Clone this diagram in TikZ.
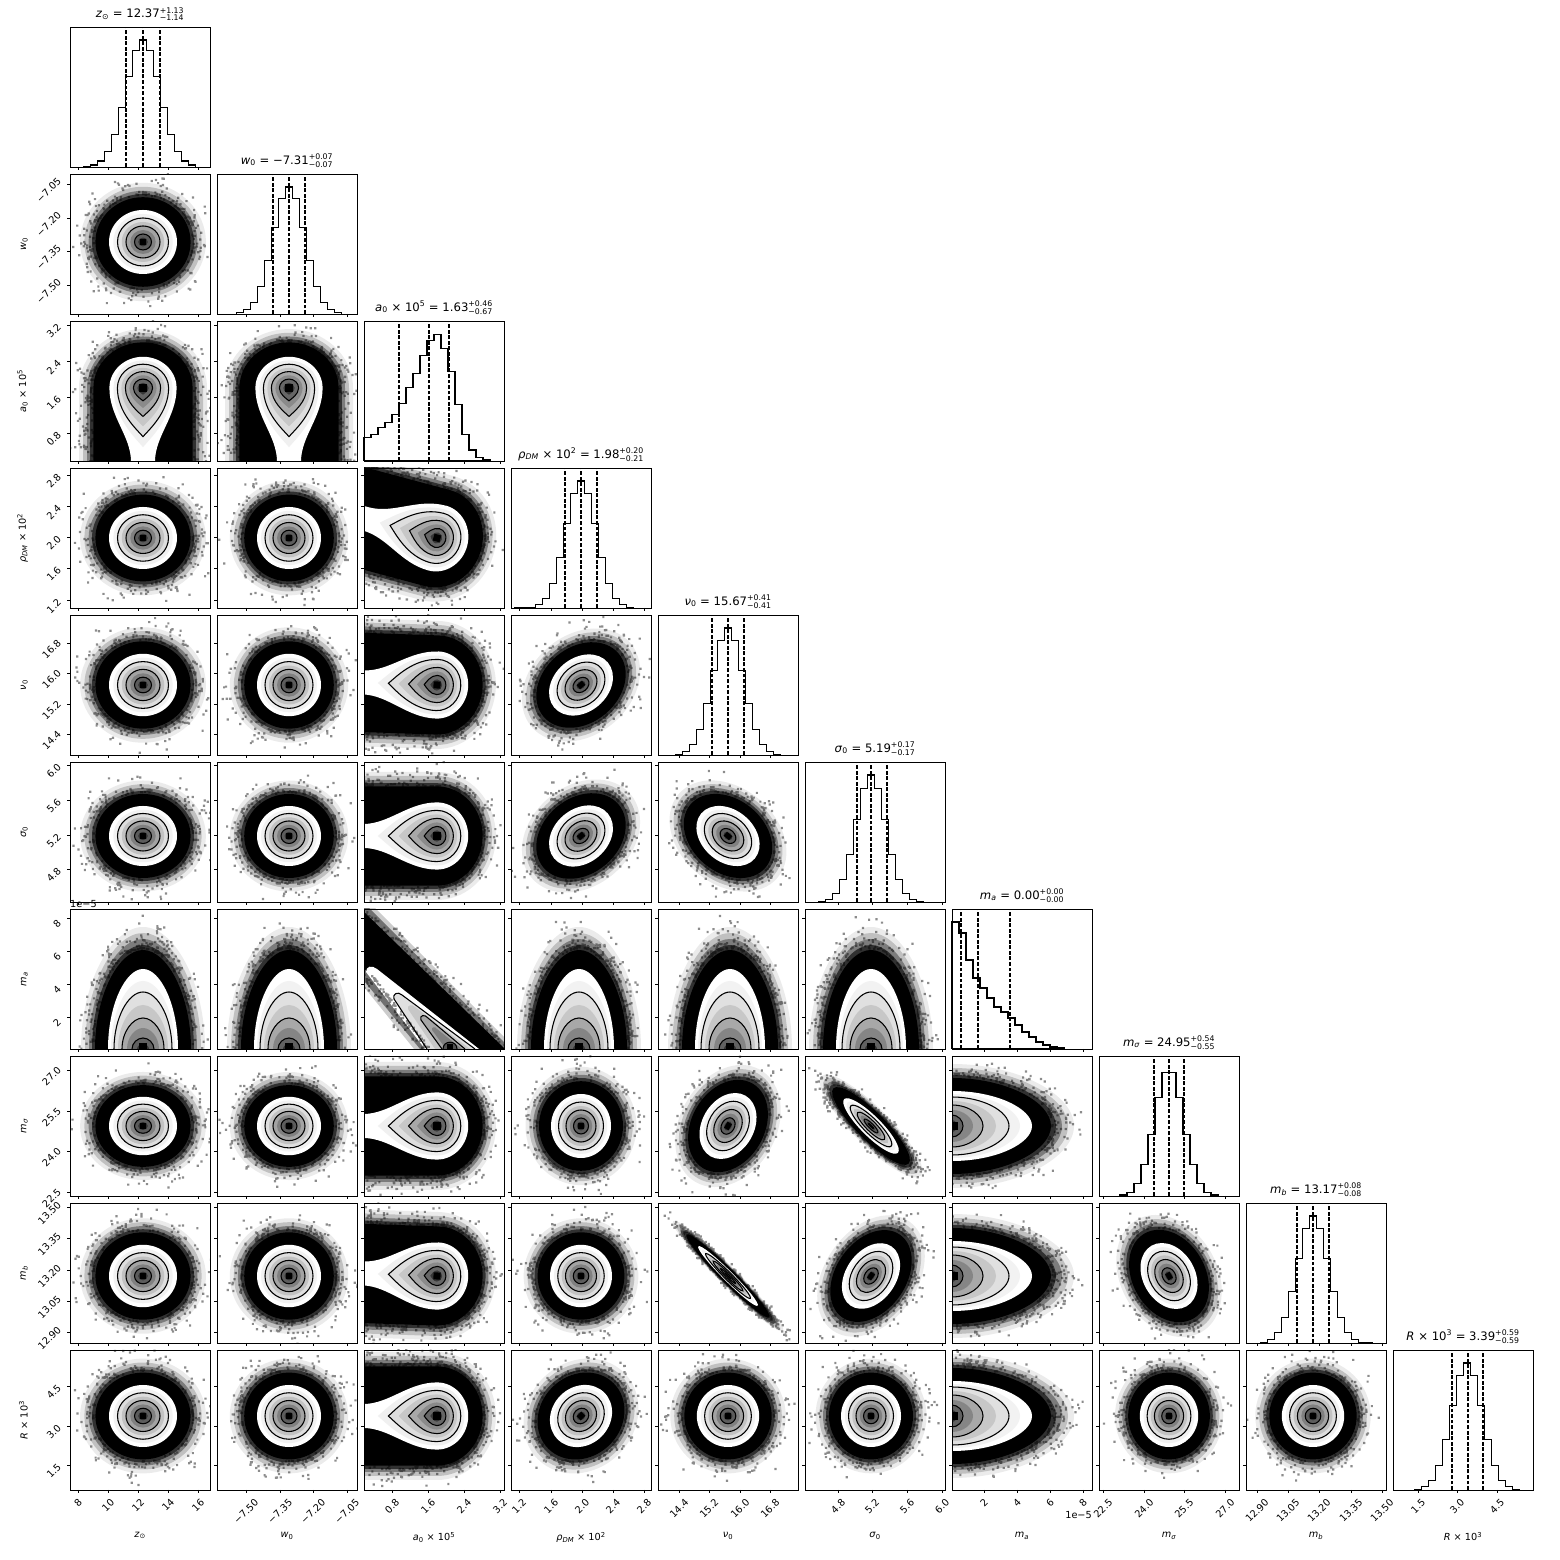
\documentclass[tikz,border=0pt]{standalone}
\usepackage{amsmath}
\usepackage{fontspec}
\setmainfont{DejaVu Sans}

\newcommand\qerr[2]{\ensuremath{^{\text{#1}}_{\text{#2}}}}
% mode of each parameter, px from the left / bottom of its panel
\def\modes{{73,72,73,70,70,66,0,70,67,74}}

\tikzset{
  panel/.style={draw=black, line width=0.8pt},
  histline/.style={line width=1.1pt},
  quantile/.style={line width=1.2pt, dash pattern=on 4pt off 1.7pt},
  contour/.style={line width=1.1pt},
  tickmark/.style={line width=0.8pt},
  scat/.style={fill=black, fill opacity=0.45},
  ticklab/.style={inner sep=0pt, font=\fontsize{10}{12}\selectfont},
  axlab/.style={inner sep=0pt, font=\fontsize{10}{12}\selectfont},
  ptitle/.style={inner sep=0pt, font=\fontsize{12}{14}\selectfont},
}

% one sample point, (u,v) given in a frame turned by #3
\newcommand\dotat[5]{({#1-1+(#4)*cos(#3)-(#5)*sin(#3)},{#2-1+(#4)*sin(#3)+(#5)*cos(#3)}) rectangle ++(2.2,2.2)}

\newcommand\tearshape[2]{(-#1,0) arc[start angle=180,end angle=0,x radius=#1,y radius=0.93*#1]
  .. controls (#1,-0.5*#2) and (0.25*#1,-0.85*#2) .. (0,-#2)
  .. controls (-0.25*#1,-0.85*#2) and (-#1,-0.5*#2) .. cycle}
\newcommand\tearhalo[1]{(-#1,0) arc[start angle=180,end angle=0,x radius=#1,y radius=0.92*#1] -- (#1,-9) -- (-#1,-9) -- cycle}
\newcommand\archshape[2]{(-#1,-4) -- (-#1,0) .. controls (-#1,0.55*#2) and (-0.5*#1,#2) .. (0,#2)
  .. controls (0.5*#1,#2) and (#1,0.55*#2) .. (#1,0) -- (#1,-4)}

\newcommand\gausspanel[5]{%
  \pgfmathsetmacro\px{70+147*#1}\pgfmathsetmacro\py{1393-147*#2}%
  \pgfmathsetmacro\mx{\modes[#1]}\pgfmathsetmacro\my{\modes[#2]}%
  \pgfmathsetmacro\cx{\px+\mx}\pgfmathsetmacro\cy{\py+\my}%
  \begin{scope}
    \clip (\px,\py) rectangle ++(140,140);
    \begin{scope}[shift={(\cx,\cy)}, rotate=#5, xscale=#3, yscale=#4]
      \foreach \s/\o in {3.7/0.08,3.45/0.18,3.2/0.35,3.0/0.6}
        \fill[black, opacity=\o] (0,0) circle (\s);
      \fill[black] (0,0) circle (2.8);
      \fill[white] (0,0) circle (2.0);
      \foreach \s/\g in {1.75/5,1.5/13,1.25/24,1.0/36,0.75/50,0.5/64,0.28/80}
        \fill[black!\g] (0,0) circle (\s);
      \fill[black] (-0.2,-0.2) rectangle (0.2,0.2);
      \foreach \s in {1.5,1.0,0.5}
        \draw[contour] (0,0) circle (\s);
    \end{scope}
    \fill[scat] \foreach \ii [evaluate=\ii as \dang using 360*rnd, evaluate=\ii as \drad using 2.9+1.7*rnd*rnd] in {1,...,260}
      {\dotat{\cx}{\cy}{#5}{#3*\drad*cos(\dang)}{#4*\drad*sin(\dang)}};
  \end{scope}}

\newcommand\tearpanel[3]{%
  \pgfmathsetmacro\px{70+147*#1}\pgfmathsetmacro\py{1393-147*#2}%
  \pgfmathsetmacro\mx{\modes[#1]}\pgfmathsetmacro\my{\modes[#2]}%
  \pgfmathsetmacro\cx{\px+\mx}\pgfmathsetmacro\cy{\py+\my}%
  \begin{scope}
    \clip (\px,\py) rectangle ++(140,140);
    \begin{scope}[shift={(\cx,\cy)}, rotate=#3, scale=16]
      \foreach \s/\o in {4.0/0.08,3.75/0.18,3.5/0.35,3.3/0.6}
        \fill[black, opacity=\o] \tearhalo{\s};
      \fill[black] \tearhalo{3.1};
      \fill[white] (-2.1,0) arc[start angle=180,end angle=0,x radius=2.1,y radius=1.95]
        .. controls (2.1,-1.8) and (0.75,-3) .. (0.75,-4.6) -- (0.75,-9) -- (-0.75,-9) -- (-0.75,-4.6)
        .. controls (-0.75,-3) and (-2.1,-1.8) .. cycle;
      \foreach \s/\tip/\g in {1.85/3.7/6,1.6/3.04/13,1.35/2.4/22,1.1/1.78/34,0.85/1.25/46,0.6/0.8/60,0.35/0.42/78}
        \fill[black!\g] \tearshape{\s}{\tip};
      \fill[black] (-0.22,-0.22) rectangle (0.22,0.22);
      \foreach \s/\tip in {1.6/3.04,1.1/1.78,0.6/0.8}
        \draw[contour] \tearshape{\s}{\tip};
    \end{scope}
    \fill[scat] \foreach \ii [evaluate=\ii as \dang using 180*rnd, evaluate=\ii as \drad using 16*(3.1+1.6*rnd*rnd)] in {1,...,160}
      {\dotat{\cx}{\cy}{#3}{\drad*cos(\dang)}{0.92*\drad*sin(\dang)}};
    \fill[scat] \foreach \ii [evaluate=\ii as \du using (2*int(2*rnd)-1)*16*(3.1+1.6*rnd*rnd), evaluate=\ii as \dv using -85*rnd] in {1,...,150}
      {\dotat{\cx}{\cy}{#3}{\du}{\dv}};
  \end{scope}}

\newcommand\archpanel[5]{%
  \pgfmathsetmacro\px{70+147*#1}\pgfmathsetmacro\py{1393-147*#2}%
  \pgfmathsetmacro\cx{\px+#3}\pgfmathsetmacro\cy{\py+#4}%
  \begin{scope}
    \clip (\px,\py) rectangle ++(140,140);
    \begin{scope}[shift={(\cx,\cy)}, rotate=#5]
      \foreach \w/\hh/\o in {62/122/0.08,58/116/0.18,54/110/0.35,51/104/0.6}
        \fill[black, opacity=\o] \archshape{\w}{\hh};
      \fill[black] \archshape{48}{99};
      \fill[white] \archshape{35}{80};
      \foreach \s/\hh/\g in {32/68/5,29/57/12,25/44/22,21/31/34,16/21/48,11/11/62,6/5/80}
        \fill[black!\g] \archshape{\s}{\hh};
      \fill[black] (-4,0) rectangle (4,6);
      \foreach \s/\hh in {29/57,21/31,11/11}
        \draw[contour] \archshape{\s}{\hh};
    \end{scope}
    \fill[scat] \foreach \ii [evaluate=\ii as \dang using 180*rnd, evaluate=\ii as \drad using 1+0.38*rnd*rnd] in {1,...,240}
      {\dotat{\cx}{\cy}{#5}{49*\drad*cos(\dang)}{100*\drad*sin(\dang)}};
  \end{scope}}

\newcommand\gausshist[6]{%
  \pgfmathsetmacro\hx{70+147*#1}\pgfmathsetmacro\hy{1393-147*#1}%
  \draw[histline] ({\hx+#4},\hy) \foreach \bin in {1,...,#5}{
      -- ({\hx+#4+7*(\bin-1)},{\hy+127*exp(-0.5*((#4+7*\bin-3.5-#2)/#3)^2)})
      -- ({\hx+#4+7*\bin},{\hy+127*exp(-0.5*((#4+7*\bin-3.5-#2)/#3)^2)})}
    -- ({\hx+#4+7*#5},\hy);
  \foreach \q in {#6}
    \draw[quantile] ({\hx+\q},\hy) -- ++(0,140);}

\newcommand\listhist[3]{%
  \pgfmathsetmacro\hx{70+147*#1}\pgfmathsetmacro\hy{1393-147*#1}%
  \draw[histline] (\hx,\hy) \foreach \hh [count=\bin from 0] in {#2}{
      -- ({\hx+7*\bin},{\hy+\hh}) -- ({\hx+7*\bin+7},{\hy+\hh})} |- (\hx,\hy);
  \foreach \q in {#3}
    \draw[quantile] ({\hx+\q},\hy) -- ++(0,140);}

\newcommand\paramaxis[2]{%
  \pgfmathsetmacro\colx{70+147*#1}\pgfmathsetmacro\rowy{1393-147*#1}%
  \foreach \p/\lab in {#2}{%
    \foreach \rr in {#1,...,9}
      \draw[tickmark] ({\colx+\p},{1393-147*\rr}) -- ++(0,-3.5);
    \node[ticklab, anchor=north] (xt#1-\p) at ({\colx+\p},62) {\rotatebox{45}{\lab}};
    \foreach \cc in {0,...,9}{%
      \ifnum\cc<#1
        \draw[tickmark] ({70+147*\cc},{\rowy+\p}) -- ++(-3.5,0);
      \fi}
    \ifnum#1>0
      \node[ticklab, anchor=east] (yt#1-\p) at (62,{\rowy+\p-6}) {\rotatebox{45}{\lab}};
    \fi}}

\newcommand\paramlabels[3]{%
  \pgfmathsetmacro\colx{70+147*#1}\pgfmathsetmacro\rowy{1393-147*#1}%
  \node[axlab, anchor=north] (xlab#1) at ({\colx+70},28) {#2};
  \ifnum#1>0
    \node[axlab, anchor=east] (ylab#1) at (28,{\rowy+70}) {\rotatebox{90}{#2}};
  \fi
  \node[ptitle, anchor=south] (title#1) at ({\colx+70},{\rowy+146}) {#2 = #3};}

\begin{document}
\begin{tikzpicture}[x=1.0286pt, y=1.0286pt]
  \useasboundingbox[fill=white] (0,0) rectangle (1560,1560);
  \pgfmathsetseed{42}

  % pair panels
  \foreach \cc/\rr/\sa/\sb/\ang in {0/1/17/16/0,
      0/3/17/15.5/0, 1/3/16/15.5/0,
      0/4/17/15.6/0, 1/4/16/15.6/0, 3/4/17.5/13.5/40,
      0/5/17/15/0, 1/5/16/15/0, 3/5/17.5/13.5/40, 4/5/17.5/13/-40,
      0/7/17/14.6/0, 1/7/16/14.6/0, 3/7/15/16/0, 4/7/17.5/13/60, 5/7/19/5/-45,
      0/8/17/15.6/0, 1/8/16/15.6/0, 3/8/15.5/15.6/0, 4/8/21/2.5/-45, 5/8/18/12.5/55, 7/8/17.5/13/-60,
      0/9/17/15.5/0, 1/9/16/15.5/0, 3/9/16.5/14.5/45, 4/9/15.6/15.5/0, 5/9/15/15.5/0, 7/9/14.6/15.5/0, 8/9/15.6/15.5/0}
    {\gausspanel{\cc}{\rr}{\sa}{\sb}{\ang}}

  \foreach \cc/\rr/\ang in {0/2/0, 1/2/0, 2/3/-105, 2/4/-92, 2/5/-90, 2/7/-90, 2/8/-92, 2/9/-90}
    {\tearpanel{\cc}{\rr}{\ang}}

  \foreach \cc/\rr/\bx/\by/\ang in {0/6/73/0/0, 1/6/72/0/0, 3/6/68/0/0, 4/6/72/0/0, 5/6/66/0/0,
      6/7/0/70/-90, 6/8/0/67/-90, 6/9/0/74/-90}
    {\archpanel{\cc}{\rr}{\bx}{\by}{\ang}}

  % m_a against a_0
  \begin{scope}
    \clip (364,511) rectangle ++(140,140);
    \fill[black, opacity=0.2] (360,658) -- (369,658) -- (516,511) -- (414,511) -- (360,578) -- cycle;
    \fill[black, opacity=0.45] (360,655) -- (366,655) -- (511,511) -- (420,511) -- (360,584) -- cycle;
    \fill[black] (364,648) -- (505,511) -- (428,511) -- (364,592) -- cycle;
    \fill[white] (366,588) .. controls (366,594) and (372,595) .. (377,591) -- (479,511) -- (425,511) -- cycle;
    \fill[black!12] (427,511) -- (394,561) .. controls (392,566) and (398,569) .. (402,565) -- (475,511) -- cycle;
    \fill[black!22] (435,511) -- (408,551) .. controls (407,555) and (412,556) .. (415,553) -- (470,511) -- cycle;
    \fill[black!35] (442,511) -- (421,540) .. controls (419,545) and (425,546) .. (428,542) -- (465,511) -- cycle;
    \fill[black!50] (446,511) -- (432,530) .. controls (431,533) and (435,534) .. (437,531) -- (462,511) -- cycle;
    \fill[black!68] (443,511) .. controls (443,520) and (457,520) .. (457,511) -- cycle;
    \fill[black] (447,511) rectangle (453,516);
    \draw[contour] (427,511) -- (394,561) .. controls (392,566) and (398,569) .. (402,565) -- (475,511);
    \draw[contour] (442,511) -- (421,540) .. controls (419,545) and (425,546) .. (428,542) -- (465,511);
    \draw[contour] (443,511) .. controls (443,520) and (457,520) .. (457,511);
    \fill[scat] \foreach \ii [evaluate=\ii as \tpos using rnd, evaluate=\ii as \doff using -2+18*rnd*rnd] in {1,...,160}
      {({363+141*\tpos+0.697*\doff},{647-137*\tpos+0.717*\doff}) rectangle ++(2.2,2.2)};
    \fill[scat] \foreach \ii [evaluate=\ii as \tpos using rnd, evaluate=\ii as \doff using -2+16*rnd*rnd] in {1,...,100}
      {({363+64*\tpos-0.785*\doff},{591-81*\tpos-0.62*\doff}) rectangle ++(2.2,2.2)};
  \end{scope}

  % marginal histograms
  \gausshist{0}{73}{17}{13.5}{16}{56,73,90}
  \gausshist{1}{72}{16}{19.5}{15}{56,72,88}
  \listhist{2}{23.7,26.3,33.3,38.7,46.3,57.3,73.3,87.3,105.7,120.7,126.7,112.3,89.3,56.7,26.3,11,3.7,1}{35,65,85}
  \gausshist{3}{70}{15.5}{3.5}{17}{54,70,86}
  \gausshist{4}{70}{15.6}{17.5}{15}{54,70,86}
  \gausshist{5}{66}{15}{13.5}{15}{52,66,82}
  \listhist{6}{127,116,89,71,61,51,42,37,31,24,17,12,7,4,2,1}{9,26,58}
  \gausshist{7}{70}{14.6}{21}{14}{55,70,85}
  \gausshist{8}{67}{15.6}{14.5}{16}{51,67,83}
  \gausshist{9}{74}{15.5}{21.5}{15}{59,75,90}

  % frames
  \foreach \cc in {0,...,9}
    \foreach \rr in {\cc,...,9}
      \draw[panel] ({70+147*\cc},{1393-147*\rr}) rectangle ++(140,140);

  % ticks and tick labels
  \paramaxis{0}{8/8,38/10,68/12,98/14,128/16}
  \paramaxis{1}{29/−7.50,63/−7.35,96/−7.20,130/−7.05}
  \paramaxis{2}{28/0.8,64/1.6,100/2.4,136/3.2}
  \paramaxis{3}{8/1.2,40/1.6,71/2.0,102/2.4,133/2.8}
  \paramaxis{4}{21/14.4,51/15.2,82/16.0,112/16.8}
  \paramaxis{5}{33/4.8,67/5.2,102/5.6,137/6.0}
  \paramaxis{6}{32/2,65/4,98/6,131/8}
  \paramaxis{7}{4/22.5,45/24.0,85/25.5,126/27.0}
  \paramaxis{8}{11/12.90,42/13.05,73/13.20,105/13.35,136/13.50}
  \paramaxis{9}{25/1.5,64/3.0,104/4.5}
  \node[ticklab, anchor=south west] (offy) at (70,652) {1e−5};
  \node[ticklab, anchor=east] (offx) at (1092,45) {1e−5};

  % axis labels and titles
  \paramlabels{0}{\textit{z}\textsubscript{⊙}}{12.37\qerr{+1.13}{−1.14}}
  \paramlabels{1}{\textit{w}\textsubscript{0}}{−7.31\qerr{+0.07}{−0.07}}
  \paramlabels{2}{\textit{a}\textsubscript{0} × 10\textsuperscript{5}}{1.63\qerr{+0.46}{−0.67}}
  \paramlabels{3}{\textit{ρ}\textsubscript{\textit{DM}} × 10\textsuperscript{2}}{1.98\qerr{+0.20}{−0.21}}
  \paramlabels{4}{\textit{ν}\textsubscript{0}}{15.67\qerr{+0.41}{−0.41}}
  \paramlabels{5}{\textit{σ}\textsubscript{0}}{5.19\qerr{+0.17}{−0.17}}
  \paramlabels{6}{\textit{m}\textsubscript{\textit{a}}}{0.00\qerr{+0.00}{−0.00}}
  \paramlabels{7}{\textit{m}\textsubscript{\textit{σ}}}{24.95\qerr{+0.54}{−0.55}}
  \paramlabels{8}{\textit{m}\textsubscript{\textit{b}}}{13.17\qerr{+0.08}{−0.08}}
  \paramlabels{9}{\textit{R} × 10\textsuperscript{3}}{3.39\qerr{+0.59}{−0.59}}
\end{tikzpicture}
\end{document}
